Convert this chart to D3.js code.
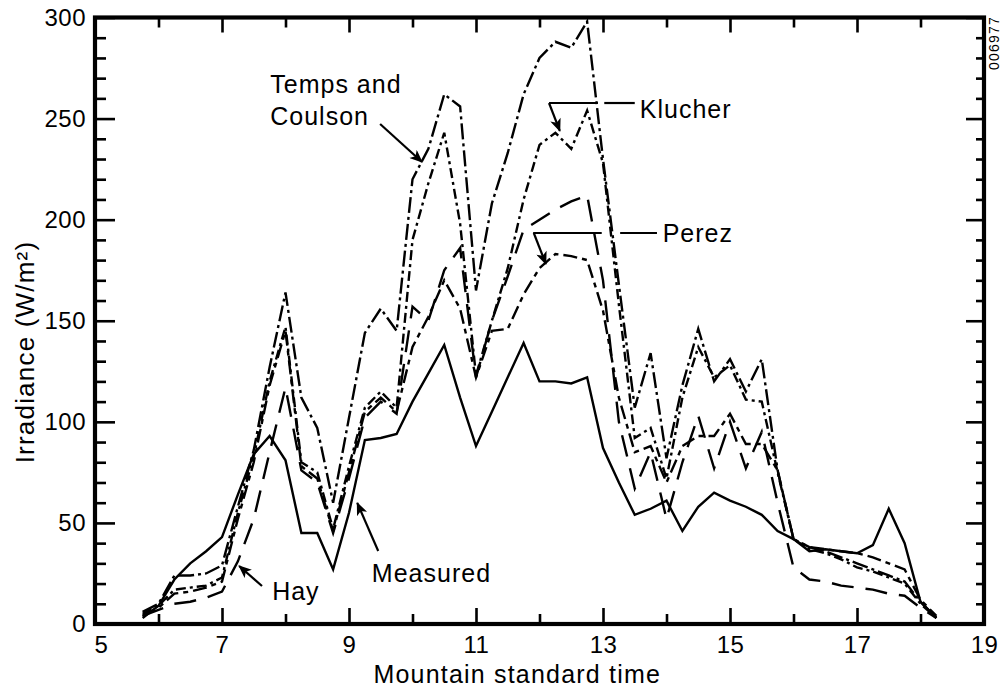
<!DOCTYPE html>
<html>
<head>
<meta charset="utf-8">
<script src="https://cdn.jsdelivr.net/npm/d3@7"></script>
<style>
  html, body { margin: 0; padding: 0; background: #fff; }
  svg { display: block; }
  text { font-family: "Liberation Sans", Arial, Helvetica, sans-serif; fill: #000; }
</style>
</head>
<body>
<svg id="chart" width="1002" height="689"></svg>
<script>
// ---- data (quarter-hour samples, W/m^2) ----
const times = [5.75, 6, 6.25, 6.5, 6.75, 7, 7.25, 7.5, 7.75, 8, 8.25, 8.5, 8.75, 9, 9.25, 9.5, 9.75,
  10, 10.25, 10.5, 10.75, 11, 11.25, 11.5, 11.75, 12, 12.25, 12.5, 12.75, 13, 13.25, 13.5, 13.75,
  14, 14.25, 14.5, 14.75, 15, 15.25, 15.5, 15.75, 16, 16.25, 16.5, 16.75, 17, 17.25, 17.5, 17.75, 18, 18.25];

const measured = [3, 9, 22, 30, 36, 43, 64, 84, 93, 81, 45, 45, 27, 55, 91, 92, 94,
  110, 124, 138, 112, 88, 105, 122, 139, 120, 120, 119, 122, 87, 70, 54, 57,
  61, 46, 58, 65, 61, 58, 54, 46, 42, 36, 37, 36, 35, 39, 57, 40, 11, 3];

const tempsCoulson = [6, 10, 24, 24, 25, 29, 58, 86, 127, 164, 112, 97, 60, 102, 144, 156, 145,
  220, 235, 262, 256, 165, 208, 233, 262, 280, 288, 285, 298, 230, 168, 107, 134,
  82, 118, 146, 120, 131, 115, 131, 76, 42, 38, 36, 33, 30, 27, 24, 21, 11, 3];

const klucher = [5, 9, 17, 18, 19, 23, 55, 83, 120, 147, 80, 75, 47, 78, 107, 115, 107,
  190, 218, 243, 198, 123, 150, 176, 210, 237, 243, 235, 254, 228, 158, 92, 97,
  72, 112, 137, 122, 128, 111, 110, 75, 42, 37, 35, 32, 28, 26, 23, 20, 10, 3];

const perez = [4, 8, 15, 16, 18, 21, 52, 80, 118, 145, 78, 72, 46, 75, 105, 112, 105,
  137, 152, 170, 156, 122, 145, 146, 163, 176, 183, 182, 180, 155, 112, 85, 88,
  70, 88, 93, 93, 104, 89, 89, 76, 42, 38, 37, 36, 35, 33, 30, 27, 12, 4];

const hay = [4, 7, 10, 11, 13, 16, 31, 52, 85, 117, 76, 70, 45, 72, 102, 110, 104,
  157, 150, 175, 186, 122, 150, 172, 195, 200, 205, 209, 212, 170, 100, 67, 85,
  52, 80, 103, 77, 100, 77, 95, 60, 28, 22, 21, 19, 18, 17, 15, 14, 8, 3];

const xTickLabels = [5, 7, 9, 11, 13, 15, 17, 19];
const xMinorTicks = [6, 8, 10, 12, 14, 16, 18];
const yTickLabels = [0, 50, 100, 150, 200, 250, 300];

// ---- layout ----
const svg = d3.select("#chart");
const pLeft = 95, pRight = 984, pTop = 17.5, pBottom = 624;

const x = d3.scaleLinear().domain([5, 19]).range([pLeft, pRight]);
const y = d3.scaleLinear().domain([0, 300]).range([pBottom, pTop]);

const yMinor = d3.range(0, 301, 10).filter(v => yTickLabels.indexOf(v) < 0);

// ---- ticks (inward) ----
function addAxis(axis, tx, ty) {
  const g = svg.append("g").attr("transform", `translate(${tx},${ty})`).call(axis);
  g.select(".domain").remove();
  g.selectAll(".tick line").attr("stroke", "#000").attr("stroke-width", 2.6);
  return g;
}
// left
addAxis(d3.axisLeft(y).tickValues(yMinor).tickSize(-11).tickFormat(""), pLeft, 0);
const yl = addAxis(d3.axisLeft(y).tickValues(yTickLabels).tickSize(-20).tickPadding(0), pLeft, 0);
yl.selectAll(".tick text").attr("x", -9).attr("font-size", 24).attr("fill", "#000")
  .attr("font-family", "Liberation Sans, Arial, sans-serif").attr("letter-spacing", 0.5);
// right
addAxis(d3.axisRight(y).tickValues(yMinor).tickSize(-8).tickFormat(""), pRight, 0);
addAxis(d3.axisRight(y).tickValues(yTickLabels).tickSize(-18).tickFormat(""), pRight, 0);
// bottom
addAxis(d3.axisBottom(x).tickValues(xMinorTicks).tickSize(-10).tickFormat(""), 0, pBottom);
const xb = addAxis(d3.axisBottom(x).tickValues(xTickLabels).tickSize(-16).tickFormat(d3.format("d")), 0, pBottom);
xb.selectAll(".tick text").attr("y", 12).attr("dy", "0.71em").attr("font-size", 24).attr("fill", "#000")
  .attr("font-family", "Liberation Sans, Arial, sans-serif").attr("letter-spacing", 0.5)
  .attr("dx", d => d === xTickLabels[0] ? 6 : 0);
// top
addAxis(d3.axisTop(x).tickValues(xMinorTicks).tickSize(-10).tickFormat(""), 0, pTop);
addAxis(d3.axisTop(x).tickValues(xTickLabels).tickSize(-15).tickFormat(""), 0, pTop);

// frame
svg.append("rect")
  .attr("x", pLeft).attr("y", pTop)
  .attr("width", pRight - pLeft).attr("height", pBottom - pTop)
  .attr("fill", "none").attr("stroke", "#000").attr("stroke-width", 4.2);

// ---- series ----
const seriesList = [
  { name: "Measured", values: measured, dash: null },
  { name: "Hay", values: hay, dash: "22,12" },
  { name: "Perez", values: perez, dash: "14,5,5,5" },
  { name: "Klucher", values: klucher, dash: "10,4,3,4" },
  { name: "Temps and Coulson", values: tempsCoulson, dash: "16,4,3,4" }
];

const line = d3.line().x(d => x(d[0])).y(d => y(d[1]));

svg.append("g").selectAll("path")
  .data(seriesList)
  .join("path")
  .attr("d", s => line(times.map((t, i) => [t, s.values[i]])))
  .attr("fill", "none")
  .attr("stroke", "#000")
  .attr("stroke-width", 2.4)
  .attr("stroke-linejoin", "miter")
  .attr("stroke-dasharray", s => s.dash);

// ---- annotations ----
const defs = svg.append("defs");
defs.append("marker")
  .attr("id", "ah").attr("viewBox", "0 0 12 10")
  .attr("refX", 11).attr("refY", 5)
  .attr("markerWidth", 14).attr("markerHeight", 11)
  .attr("markerUnits", "userSpaceOnUse")
  .attr("orient", "auto")
  .append("path").attr("d", "M0,0 L12,5 L0,10 L3,5 Z").attr("fill", "#000");

const ann = svg.append("g").attr("font-size", 25).attr("letter-spacing", 1);

function arrow(t0, v0, t1, v1) {
  ann.append("line")
    .attr("x1", x(t0)).attr("y1", y(v0)).attr("x2", x(t1)).attr("y2", y(v1))
    .attr("stroke", "#000").attr("stroke-width", 2.2)
    .attr("marker-end", "url(#ah)");
}
function seg(t0, v0, t1, v1) {
  ann.append("line")
    .attr("x1", x(t0)).attr("y1", y(v0)).attr("x2", x(t1)).attr("y2", y(v1))
    .attr("stroke", "#000").attr("stroke-width", 2.2);
}
function label(txt, t, v) {
  ann.append("text").attr("x", x(t)).attr("y", y(v)).text(txt);
}

// Temps and Coulson
label("Temps and", 7.76, 262.6);
label("Coulson", 7.76, 246.8);
arrow(9.49, 247.3, 10.15, 228.5);

// Klucher
label("Klucher", 13.58, 250.3);
seg(12.15, 257.7, 12.92, 257.7);
seg(13.02, 257.7, 13.5, 257.7);
arrow(12.15, 257.7, 12.32, 243.9);

// Perez
label("Perez", 13.94, 188.9);
seg(11.9, 193.4, 12.98, 193.4);
seg(13.27, 193.4, 13.85, 193.4);
arrow(11.91, 193.4, 12.1, 178.1);

// Hay
label("Hay", 7.79, 11.9);
arrow(7.63, 18.8, 7.27, 28.7);

// Measured
label("Measured", 9.36, 20.8);
arrow(9.46, 36.1, 9.13, 59.9);

// ---- axis titles ----
svg.append("text")
  .attr("x", x(11.65)).attr("y", 683)
  .attr("text-anchor", "middle").attr("font-size", 25).attr("letter-spacing", 1.2)
  .text("Mountain standard time");

svg.append("text")
  .attr("transform", `translate(34,352) rotate(-90)`)
  .attr("text-anchor", "middle").attr("font-size", 26).attr("letter-spacing", 1.2)
  .text("Irradiance (W/m²)");

// figure id
svg.append("text")
  .attr("transform", "translate(999,70) rotate(-90)")
  .attr("font-size", 14).attr("letter-spacing", 1.2)
  .text("006977");
</script>
</body>
</html>
